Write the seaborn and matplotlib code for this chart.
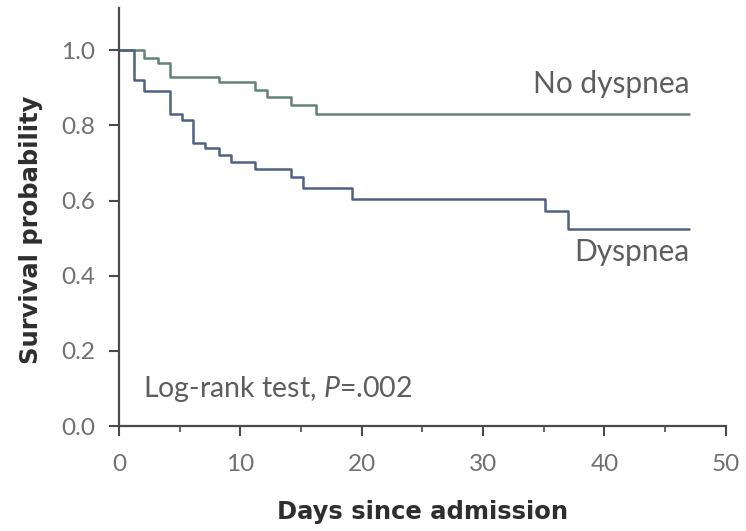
import matplotlib
matplotlib.use("Agg")
import matplotlib.pyplot as plt
import seaborn as sns
import pandas as pd
from matplotlib.ticker import MultipleLocator

# Data (Kaplan-Meier step curves)
no_dysp_days = [0, 2.1, 3.2, 4.2, 8.2, 11.2, 12.2, 14.2, 16.2, 47]
no_dysp_surv = [1.0, 0.98, 0.965, 0.93, 0.915, 0.895, 0.876, 0.855, 0.83, 0.83]

dysp_days = [0, 1.2, 2.1, 4.2, 5.2, 6.1, 7.1, 8.2, 9.2, 11.2, 14.2, 15.2, 19.2, 35.1, 37.0, 47]
dysp_surv = [1.0, 0.92, 0.892, 0.83, 0.814, 0.752, 0.739, 0.722, 0.703, 0.683, 0.662, 0.634, 0.605, 0.572, 0.525, 0.525]

groups = ["No dyspnea", "Dyspnea"]
x_ticks = [0, 10, 20, 30, 40, 50]
y_ticks = [0.0, 0.2, 0.4, 0.6, 0.8, 1.0]
annotation = "Log-rank test, $\\it{P}$=.002"

df = pd.concat([
    pd.DataFrame({"days": no_dysp_days, "surv": no_dysp_surv, "group": groups[0]}),
    pd.DataFrame({"days": dysp_days, "surv": dysp_surv, "group": groups[1]}),
])

sns.set_style("white")
plt.rcParams["font.family"] = ["Lato", "DejaVu Sans"]
plt.rcParams["mathtext.fontset"] = "custom"
plt.rcParams["mathtext.it"] = "Lato:italic"
plt.rcParams["mathtext.rm"] = "Lato"

fig = plt.figure(figsize=(7.46, 5.31), dpi=100)
ax = fig.add_axes([0.1595, 0.1977, 0.8135, 0.787])

palette = {"No dyspnea": "#62817a", "Dyspnea": "#4f6183"}
sns.lineplot(data=df, x="days", y="surv", hue="group", palette=palette,
             drawstyle="steps-post", linewidth=1.8, legend=False, ax=ax,
             estimator=None, sort=False)

ax.set_xlim(0, 50)
ax.set_ylim(0, 1.112)
ax.set_xticks(x_ticks)
ax.set_xticklabels([str(t) for t in x_ticks])
ax.xaxis.set_minor_locator(MultipleLocator(5))
ax.set_yticks(y_ticks)
ax.set_yticklabels([f"{t:.1f}" for t in y_ticks])

for s in ["top", "right"]:
    ax.spines[s].set_visible(False)
for s in ["left", "bottom"]:
    ax.spines[s].set_color("#4a4a4a")
    ax.spines[s].set_linewidth(1.6)

ax.tick_params(axis="both", which="major", direction="out", length=7, width=1.5,
               color="#4a4a4a", labelcolor="#707070", labelsize=17.5)
ax.tick_params(axis="x", which="major", pad=13, bottom=True)
ax.tick_params(axis="y", which="major", pad=10, left=True)
ax.tick_params(axis="x", which="minor", direction="out", length=4, width=1.2,
               color="#4a4a4a", bottom=True)

label_font = dict(family=["DejaVu Sans"], weight="bold",
                  size=17.5, color="#2e2e2e")
ax.set_xlabel("Days since admission", **label_font)
ax.set_ylabel("Survival probability", **label_font)
ax.xaxis.set_label_coords(0.5, -0.177)
ax.yaxis.set_label_coords(-0.125, 0.469)

txt = dict(fontsize=21.5, color="#5e5e5e", fontweight="normal")
ax.text(47, 0.885, groups[0], ha="right", va="baseline", **txt)
ax.text(47, 0.44, groups[1], ha="right", va="baseline", **txt)
ax.text(2.0, 0.077, annotation, ha="left", va="baseline", **dict(txt, fontsize=20.5))

fig.savefig("out.png", dpi=100)
